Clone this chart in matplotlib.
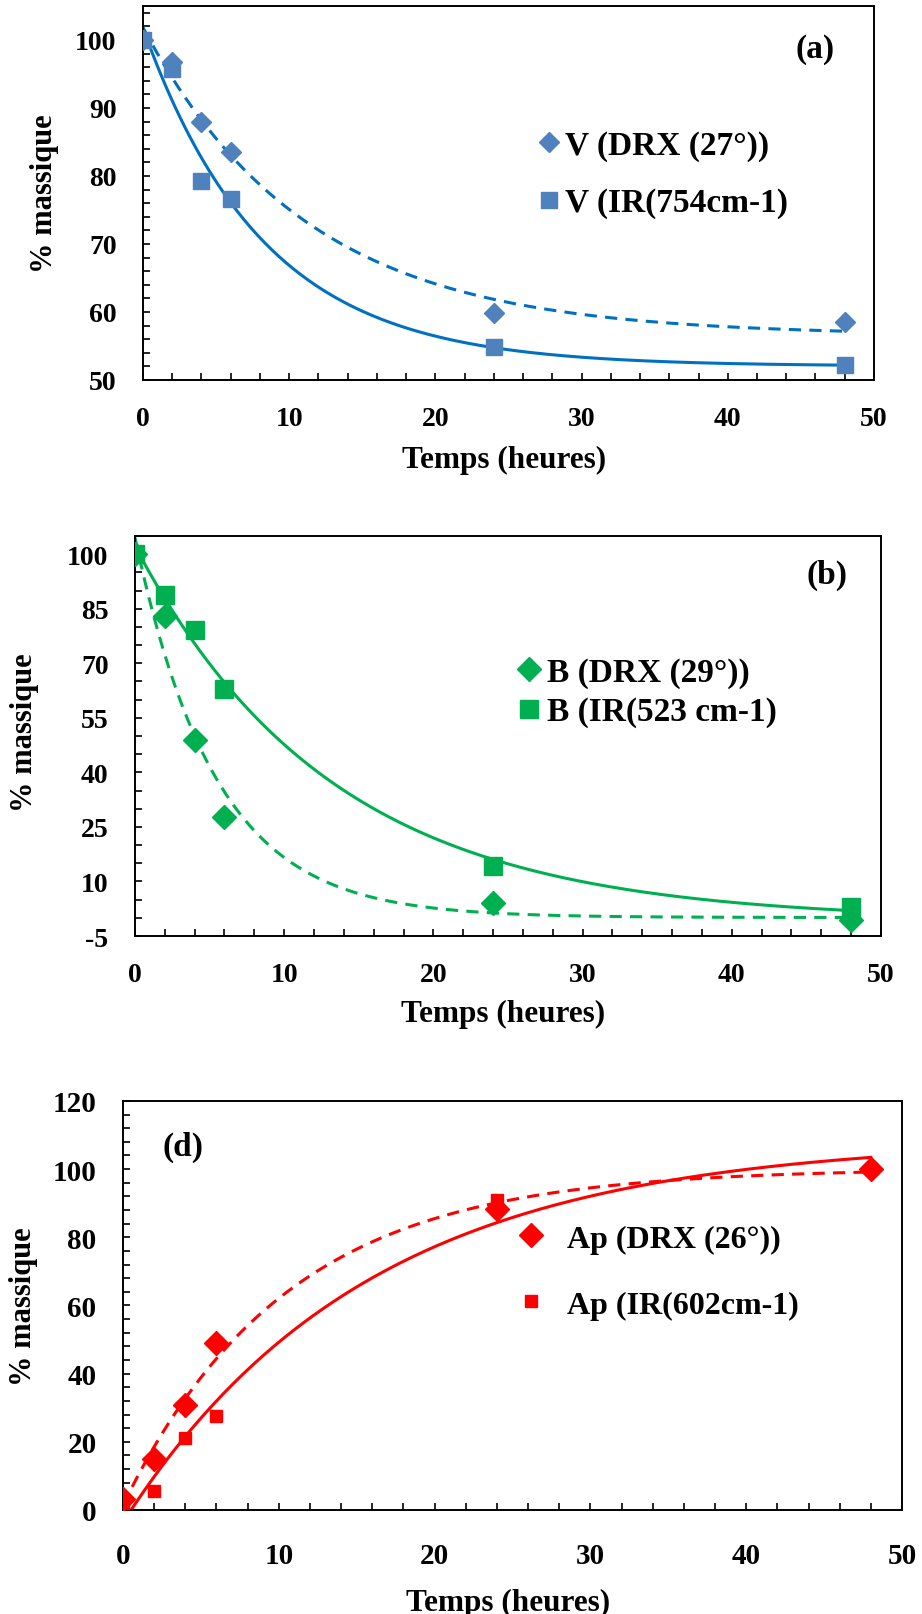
import matplotlib
matplotlib.use("Agg")
import matplotlib.pyplot as plt
import numpy as np

plt.rcParams['font.family'] = ['Liberation Serif', 'DejaVu Serif']
plt.rcParams['font.weight'] = 'bold'
plt.rcParams['axes.unicode_minus'] = False

# temps (heures)
t = [0, 2, 4, 6, 24, 48]

# (a) V
v_drx = [100, 96.7, 88.0, 83.5, 59.8, 58.5]
v_ir = [100, 95.7, 79.2, 76.6, 54.8, 52.2]
# (b) B
b_drx = [100, 83.0, 48.9, 27.7, 4.0, -0.6]
b_ir = [100, 88.8, 79.1, 63.0, 14.2, 3.1]
# (d) Ap
ap_drx = [3.2, 15.0, 30.9, 49.0, 88.3, 100]
ap_ir = [2.0, 5.6, 21.2, 27.6, 91.0, 100]


def trend(ax, x, y, color, ls):
    # tendance y = a*exp(-k*t) + c, moindres carres sur k
    x = np.asarray(x, float)
    y = np.asarray(y, float)
    best = None
    for k in np.linspace(0.01, 1.0, 500):
        A = np.column_stack([np.exp(-k * x), np.ones_like(x)])
        coef, *_ = np.linalg.lstsq(A, y, rcond=None)
        r = np.sum((A @ coef - y) ** 2)
        if best is None or r < best[0]:
            best = (r, k, coef)
    _, k, (a, c) = best
    xx = np.linspace(0, 48, 300)
    kw = dict(dashes=(4, 2.7)) if ls == '--' else {}
    ax.plot(xx, a * np.exp(-k * xx) + c, color=color, lw=2.2, zorder=2, **kw)


def style(ax, ylim, ymaj, ymin, fs, pad, lab_x, lab_y, xl_y):
    ax.set_xlim(0, 50)
    ax.set_ylim(*ylim)
    ax.set_xticks(range(0, 51, 10))
    ax.set_xticks(range(0, 51, 2), minor=True)
    ax.set_yticks(ymaj)
    ax.set_yticks(ymin, minor=True)
    ax.tick_params(which='both', direction='in', length=5, width=1.2,
                   labelsize=fs)
    ax.tick_params(axis='x', pad=pad)
    ax.tick_params(axis='y', pad=19)
    for s in ax.spines.values():
        s.set_linewidth(1.4)
    ax.set_ylabel('% massique', fontsize=22, fontweight='bold')
    ax.set_xlabel('Temps (heures)', fontsize=22.5, fontweight='bold')
    ax.yaxis.set_label_coords(lab_x, lab_y)
    ax.xaxis.set_label_coords(0.494, xl_y)


def legend(ax, x, y, fs, tpad, lsp):
    ax.legend(loc='center left', bbox_to_anchor=(x, y), frameon=False,
              fontsize=fs, handlelength=0.6, handletextpad=tpad,
              labelspacing=lsp, borderpad=0, borderaxespad=0)


fig = plt.figure(figsize=(9.22, 16.15), dpi=100)

# ---- (a)
blue_m = '#4F81BD'
blue_l = '#0070C0'
ax1 = fig.add_axes([0.1551, 0.7641, 0.7928, 0.2316])
trend(ax1, t, v_drx, blue_l, '--')
trend(ax1, t, v_ir, blue_l, '-')
ax1.plot(t, v_drx, 'D', color=blue_m, ms=10, ls='none', label='V (DRX (27°))', zorder=3)
ax1.plot(t, v_ir, 's', color=blue_m, ms=12, ls='none', label='V (IR(754cm-1)', zorder=3)
style(ax1, (50, 105), range(50, 101, 10), range(50, 106, 2), 20, 19,
      -0.1145, 0.5, -0.174)
legend(ax1, 0.5417, 0.551, 24, 0.18, 0.8)
ax1.text(0.92, 0.885, '(a)', transform=ax1.transAxes, fontsize=24,
         ha='center', va='center')

# ---- (b)
green = '#00B050'
ax2 = fig.add_axes([0.1464, 0.4198, 0.8091, 0.2477])
trend(ax2, t, b_drx, green, '--')
trend(ax2, t, b_ir, green, '-')
ax2.plot(t, b_drx, 'D', color=green, ms=12, ls='none', label='B (DRX (29°))', zorder=3)
ax2.plot(t, b_ir, 's', color=green, ms=13, ls='none', label='B (IR(523 cm-1)', zorder=3)
style(ax2, (-5, 105), range(-5, 101, 15), range(-5, 106, 5), 20, 19,
      -0.128, 0.51, -0.157)
legend(ax2, 0.515, 0.61, 24, 0.24, 0.25)
ax2.text(0.927, 0.905, '(b)', transform=ax2.transAxes, fontsize=24,
         ha='center', va='center')

# ---- (d)
red = '#FF0000'
ax3 = fig.add_axes([0.1334, 0.0644, 0.8449, 0.2533])
trend(ax3, t, ap_drx, red, '--')
trend(ax3, t, ap_ir, red, '-')
ax3.plot(t, ap_drx, 'D', color=red, ms=12, ls='none', label='Ap (DRX (26°))', zorder=3)
ax3.plot(t, ap_ir, 's', color=red, ms=9, ls='none', label='Ap (IR(602cm-1)', zorder=3)
style(ax3, (0, 120), range(0, 121, 20), range(0, 121, 4), 21, 23,
      -0.109, 0.5, -0.19)
legend(ax3, 0.5116, 0.582, 23, 0.81, 1.15)
ax3.text(0.077, 0.89, '(d)', transform=ax3.transAxes, fontsize=24,
         ha='center', va='center')

fig.savefig('out.png', dpi=100)
